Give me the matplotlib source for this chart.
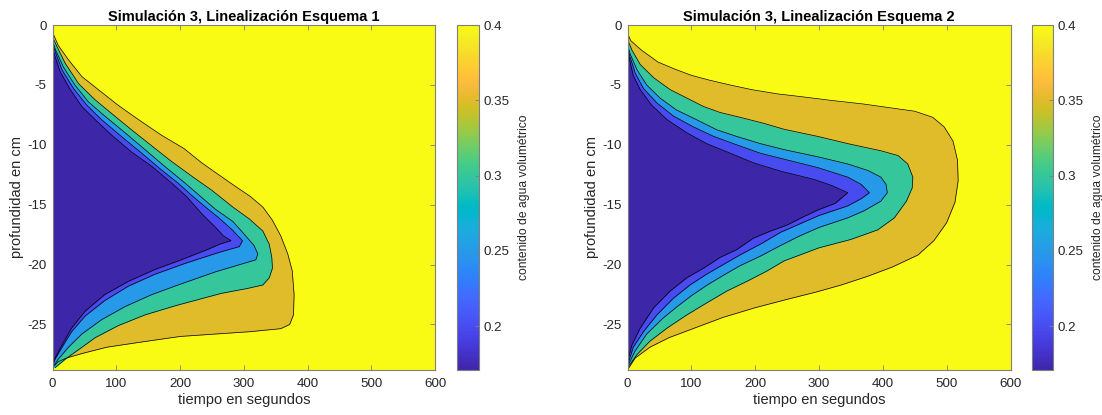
import numpy as np
import matplotlib
matplotlib.use("Agg")
import matplotlib.pyplot as plt
from matplotlib.colors import LinearSegmentedColormap, Normalize
from matplotlib.cm import ScalarMappable

plt.rcParams['font.family'] = ['Liberation Sans', 'DejaVu Sans']

# ---------------- data ----------------
titles = ["Simulación 3, Linealización Esquema 1", "Simulación 3, Linealización Esquema 2"]
xlabel = "tiempo en segundos"
ylabel = "profundidad en cm"
cbar_label = "contenido de agua volumétrico"
x_ticks = [0, 100, 200, 300, 400, 500, 600]
y_ticks = [0, -5, -10, -15, -20, -25]
c_ticks = [0.2, 0.25, 0.3, 0.35, 0.4]
c_min, c_max = 0.171, 0.4
contour_levels = [0.2, 0.25, 0.3, 0.35, 0.4]

# Scheme 1: contour crossings (depth in cm, time in s)
s1_d_040 = [0.6, 1.7, 2.9, 4.3, 5.4, 6.7, 7.9, 9.2, 10.3, 11.5, 12.4, 13.4, 14.3, 15.2, 16.3, 17.6, 19.1, 20.5, 22.5, 24.2, 25.0, 25.35, 25.6, 25.8, 26.0, 26.5, 26.9, 27.4, 27.8, 28.1, 28.5, 28.8]
s1_t_040 = [0, 9, 25, 46, 72, 103, 135, 171, 206, 234, 258, 285, 310, 330, 345, 358, 369, 376, 379, 378, 372, 358, 310, 255, 200, 135, 85, 48, 22, 9, 2, 0]
s1_d_035 = [1.0, 1.8, 3.2, 4.9, 6.25, 7.4, 8.75, 10.1, 11.4, 12.6, 13.8, 15.2, 16.2, 17.2, 18.3, 19.4, 20.3, 21.1, 21.7, 22.0, 22.4, 22.9, 23.4, 24.2, 25.1, 26.1, 27.1, 27.9, 28.6]
s1_t_035 = [0, 7, 20, 41, 67, 93, 124, 156, 187, 218, 250, 283, 309, 330, 340, 344, 345, 340, 330, 305, 265, 230, 195, 145, 103, 67, 41, 20, 4]
s1_d_030 = [1.3, 2.1, 3.5, 5.0, 6.4, 7.6, 9.0, 10.4, 11.8, 13.2, 14.3, 15.4, 16.4, 17.3, 18.4, 19.1, 19.6, 19.95, 20.6, 21.7, 22.5, 23.5, 24.6, 25.8, 26.9, 27.9, 28.6]
s1_t_030 = [0, 5, 17, 35, 56, 82, 114, 145, 176, 208, 232, 256, 283, 298, 316, 322, 319, 297, 256, 197, 156, 114, 77, 46, 25, 9, 0]
s1_d_025 = [1.6, 2.2, 3.75, 5.3, 6.7, 7.9, 9.3, 10.7, 12.1, 13.2, 14.3, 15.2, 16.1, 17.1, 18.0, 18.5, 19.0, 19.9, 20.8, 21.8, 23.0, 24.3, 25.6, 26.9, 27.9, 28.5]
s1_t_025 = [0, 4, 15, 33, 54, 77, 108, 140, 171, 197, 220, 240, 261, 282, 298, 293, 260, 208, 161, 119, 82, 51, 30, 15, 4, 0]
s1_d_020 = [1.9, 2.4, 3.9, 5.4, 6.8, 7.9, 9.2, 10.6, 11.8, 13.2, 14.3, 15.8, 16.9, 17.6, 18.0, 18.3, 18.7, 19.7, 20.4, 21.4, 22.5, 23.9, 25.3, 26.7, 27.8, 28.3]
s1_t_020 = [0, 2.6, 12, 28, 46, 67, 93, 124, 156, 187, 210, 235, 256, 268, 280, 262, 245, 197, 161, 119, 82, 51, 30, 15, 4, 0]

# Scheme 2
s2_d_040 = [0.7, 1.3, 2.1, 3.1, 3.7, 4.2, 4.6, 5.0, 5.4, 5.75, 6.0, 6.3, 6.6, 6.9, 7.2, 7.7, 8.5, 9.7, 11.3, 13.0, 14.8, 16.5, 18.0, 19.2, 20.2, 21.0, 21.7, 22.3, 22.9, 23.6, 24.4, 25.3, 26.1, 26.9, 27.8, 28.8]
s2_t_040 = [0, 5, 22, 48, 75, 100, 128, 160, 195, 235, 275, 320, 370, 410, 450, 478, 496, 510, 517, 518, 513, 500, 480, 455, 415, 375, 335, 295, 250, 200, 150, 105, 65, 35, 12, 0]
s2_d_035 = [1.2, 2.1, 3.3, 4.4, 5.4, 6.1, 6.8, 7.3, 7.7, 8.2, 8.7, 9.3, 9.9, 10.5, 10.9, 11.6, 12.7, 13.6, 14.7, 16.1, 17.1, 17.9, 18.6, 19.2, 19.7, 20.55, 21.4, 22.2, 23.2, 24.2, 25.3, 26.4, 27.5, 28.6]
s2_t_035 = [0, 7, 20, 41, 67, 93, 119, 145, 176, 213, 245, 298, 345, 397, 424, 439, 447, 446, 437, 418, 392, 350, 300, 270, 245, 218, 187, 156, 124, 93, 62, 35, 15, 0]
s2_d_030 = [1.6, 2.4, 3.75, 5.0, 6.1, 7.1, 7.9, 8.75, 9.3, 9.9, 10.4, 11.0, 11.6, 12.15, 12.7, 13.3, 14.0, 14.7, 15.5, 16.1, 16.9, 17.6, 18.4, 19.3, 20.1, 20.9, 21.7, 22.6, 23.5, 24.5, 25.8, 27.2, 28.5]
s2_t_030 = [0, 4, 15, 30, 51, 77, 108, 140, 171, 208, 245, 298, 345, 377, 397, 405, 407, 397, 371, 345, 300, 270, 240, 208, 176, 150, 125, 100, 78, 55, 30, 12, 0]
s2_d_025 = [1.8, 2.5, 4.0, 5.3, 6.5, 7.6, 8.5, 9.3, 10.0, 10.7, 11.2, 11.9, 12.7, 13.3, 14.0, 14.5, 15.1, 15.9, 16.6, 17.3, 18.3, 19.2, 20.0, 20.8, 21.7, 22.8, 24.2, 25.6, 26.9, 28.4]
s2_t_025 = [0, 3, 12, 25, 46, 72, 103, 135, 171, 208, 245, 298, 345, 366, 379, 366, 345, 300, 270, 240, 208, 176, 150, 124, 98, 72, 46, 25, 9, 0]
s2_d_020 = [2.1, 2.6, 4.2, 5.4, 6.7, 7.9, 9.0, 9.9, 10.7, 11.5, 12.2, 12.9, 13.4, 14.0, 14.9, 15.4, 16.0, 16.7, 17.2, 17.8, 18.75, 19.4, 20.3, 21.1, 22.2, 23.6, 25.3, 26.7, 28.1]
s2_t_020 = [0, 2, 9, 20, 38, 62, 93, 124, 161, 197, 240, 293, 320, 345, 325, 300, 276, 250, 224, 197, 171, 145, 119, 93, 67, 41, 20, 7, 0]

scheme1 = [(s1_d_040, s1_t_040), (s1_d_035, s1_t_035), (s1_d_030, s1_t_030),
           (s1_d_025, s1_t_025), (s1_d_020, s1_t_020)]
scheme2 = [(s2_d_040, s2_t_040), (s2_d_035, s2_t_035), (s2_d_030, s2_t_030),
           (s2_d_025, s2_t_025), (s2_d_020, s2_t_020)]

# ---------------- parula colormap ----------------
parula = [
 [0.2422,0.1504,0.6603],[0.2504,0.1650,0.7076],[0.2578,0.1818,0.7511],[0.2647,0.1978,0.7952],
 [0.2706,0.2147,0.8364],[0.2751,0.2342,0.8710],[0.2783,0.2559,0.8991],[0.2803,0.2782,0.9221],
 [0.2813,0.3006,0.9414],[0.2810,0.3228,0.9579],[0.2795,0.3447,0.9717],[0.2760,0.3667,0.9829],
 [0.2699,0.3892,0.9906],[0.2602,0.4123,0.9952],[0.2440,0.4358,0.9988],[0.2206,0.4603,0.9973],
 [0.1963,0.4847,0.9892],[0.1834,0.5074,0.9798],[0.1786,0.5289,0.9682],[0.1764,0.5499,0.9520],
 [0.1687,0.5703,0.9359],[0.1540,0.5902,0.9218],[0.1460,0.6091,0.9079],[0.1380,0.6276,0.8973],
 [0.1248,0.6459,0.8883],[0.1113,0.6635,0.8763],[0.0952,0.6798,0.8598],[0.0689,0.6948,0.8394],
 [0.0297,0.7082,0.8163],[0.0036,0.7203,0.7917],[0.0067,0.7312,0.7660],[0.0433,0.7411,0.7394],
 [0.0964,0.7500,0.7120],[0.1408,0.7584,0.6842],[0.1717,0.7670,0.6554],[0.1938,0.7758,0.6251],
 [0.2161,0.7843,0.5923],[0.2470,0.7918,0.5567],[0.2906,0.7973,0.5188],[0.3406,0.8008,0.4789],
 [0.3909,0.8029,0.4354],[0.4456,0.8024,0.3909],[0.5044,0.7993,0.3480],[0.5616,0.7942,0.3045],
 [0.6174,0.7876,0.2612],[0.6720,0.7793,0.2227],[0.7242,0.7698,0.1910],[0.7738,0.7598,0.1646],
 [0.8203,0.7498,0.1535],[0.8634,0.7406,0.1596],[0.9035,0.7330,0.1774],[0.9393,0.7288,0.2100],
 [0.9728,0.7298,0.2394],[0.9956,0.7434,0.2371],[0.9970,0.7659,0.2199],[0.9952,0.7893,0.2028],
 [0.9892,0.8136,0.1885],[0.9786,0.8386,0.1766],[0.9676,0.8639,0.1643],[0.9610,0.8890,0.1537],
 [0.9597,0.9135,0.1423],[0.9628,0.9373,0.1265],[0.9691,0.9606,0.1064],[0.9769,0.9839,0.0805]]
cmap = LinearSegmentedColormap.from_list("parula", parula, N=256)
norm = Normalize(vmin=c_min, vmax=c_max)

# region colours: inside each level boundary, coloured by the lower level
region_values = [0.35, 0.30, 0.25, 0.20, c_min]

# ---------------- figure ----------------
W, H = 1102, 415
fig = plt.figure(figsize=(W / 100, H / 100), dpi=100)

ax_boxes = [(52.5, 25, 382.5, 345), (627.5, 25, 383, 345)]
cb_boxes = [(457, 25, 22, 345), (1032, 25, 21, 345)]
schemes = [scheme1, scheme2]
txt_col = '#262626'
edge_col = '#7f7f7f'

for i in range(2):
    x0, y0, w, h = ax_boxes[i]
    ax = fig.add_axes([x0 / W, 1 - (y0 + h) / H, w / W, h / H])
    ax.set_facecolor(cmap(norm(c_max)))
    for (dd, tt), val in zip(schemes[i], region_values):
        dd = np.asarray(dd)
        tt = np.asarray(tt)
        ax.fill_betweenx(-dd, 0, tt, color=cmap(norm(val)), lw=0, zorder=2)
        ax.plot(tt, -dd, color='black', lw=0.5, zorder=3)
    ax.set_xlim(0, 600)
    ax.set_ylim(-28.8, 0)
    ax.set_xticks(x_ticks)
    ax.set_yticks(y_ticks)
    ax.set_yticklabels([str(v) for v in y_ticks])
    ax.tick_params(direction='in', top=True, right=True, length=3.8, width=0.6,
                   color=edge_col, labelcolor=txt_col, labelsize=9.6)
    ax.tick_params(axis='x', pad=5.5)
    ax.tick_params(axis='y', pad=4.3)
    for sp in ax.spines.values():
        sp.set_color(edge_col)
        sp.set_linewidth(0.8)
        sp.set_zorder(5)
    ax.set_title(titles[i], fontsize=10.5, fontweight='bold', color='black', pad=3)
    ax.set_xlabel(xlabel, fontsize=10.5, color=txt_col, labelpad=2.5)
    ax.set_ylabel(ylabel, fontsize=10.5, color=txt_col, labelpad=2)

    cx0, cy0, cw, ch = cb_boxes[i]
    cax = fig.add_axes([cx0 / W, 1 - (cy0 + ch) / H, cw / W, ch / H])
    sm = ScalarMappable(norm=norm, cmap=cmap)
    cb = fig.colorbar(sm, cax=cax)
    cb.set_ticks(c_ticks)
    cb.set_ticklabels([f"{v:g}" for v in c_ticks])
    cb.ax.tick_params(direction='in', length=3, width=0.6, color=edge_col,
                      labelcolor=txt_col, labelsize=9.6, pad=3)
    cb.outline.set_edgecolor(edge_col)
    cb.outline.set_linewidth(0.8)
    cb.set_label(cbar_label, fontsize=8.7, color=txt_col, labelpad=6)

fig.savefig("out.png", dpi=100)
